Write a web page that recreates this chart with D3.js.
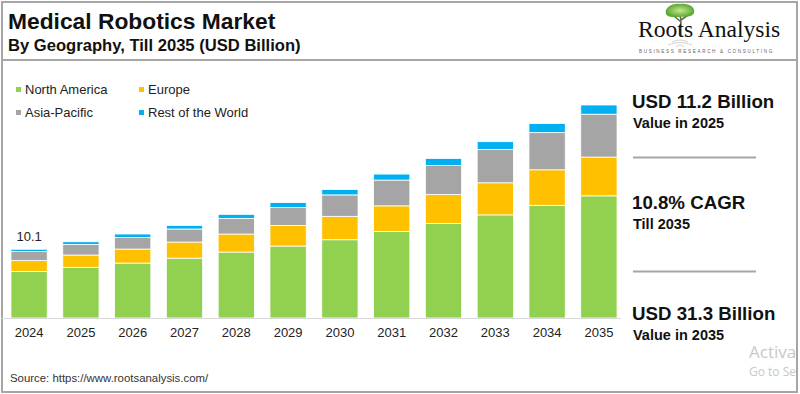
<!DOCTYPE html>
<html>
<head>
<meta charset="utf-8">
<script src="https://cdn.jsdelivr.net/npm/d3@7"></script>
<style>
  html, body { margin: 0; padding: 0; background: #fff; }
  svg { display: block; font-family: "Liberation Sans", Arial, sans-serif; }
</style>
</head>
<body>
<svg id="chart" width="800" height="394"></svg>
<script>
// data, USD billion
const years = ["2024", "2025", "2026", "2027", "2028", "2029", "2030", "2031", "2032", "2033", "2034", "2035"];
const northAmerica = [6.85, 7.45, 8.07, 8.80, 9.69, 10.57, 11.50, 12.70, 13.90, 15.15, 16.56, 17.95];
const europe       = [1.58, 1.80, 2.06, 2.36, 2.65, 3.04, 3.44, 3.78, 4.23, 4.72, 5.22, 5.70];
const asiaPacific  = [1.33, 1.55, 1.71, 1.92, 2.30, 2.61, 3.15, 3.79, 4.28, 4.91, 5.46, 6.30];
const restOfWorld  = [0.34, 0.40, 0.50, 0.53, 0.59, 0.74, 0.79, 0.88, 1.03, 1.13, 1.33, 1.35];
const regions = ["North America", "Europe", "Asia-Pacific", "Rest of the World"];
const colors = ["#92D050", "#FFC000", "#A5A5A5", "#00B0F0"];
const firstLabel = "10.1";

const rows = years.map((y, i) => ({
    year: y,
    "North America": northAmerica[i],
    "Europe": europe[i],
    "Asia-Pacific": asiaPacific[i],
    "Rest of the World": restOfWorld[i]
}));

const svg = d3.select("#chart");

// frame
svg.append("rect")
    .attr("x", 2).attr("y", 2).attr("width", 795).attr("height", 390)
    .attr("fill", "none").attr("stroke", "#a6a6a6").attr("stroke-width", 2);
svg.append("line")
    .attr("x1", 2).attr("x2", 797).attr("y1", 60).attr("y2", 60)
    .attr("stroke", "#a6a6a6").attr("stroke-width", 2);

// titles
svg.append("text")
    .attr("x", 8).attr("y", 29)
    .attr("font-size", 22.8).attr("font-weight", "bold").attr("fill", "#111")
    .text("Medical Robotics Market");
svg.append("text")
    .attr("x", 8).attr("y", 51)
    .attr("font-size", 16.6).attr("font-weight", "bold").attr("fill", "#111")
    .text("By Geography, Till 2035 (USD Billion)");

// logo
const logo = svg.append("g");
const grad = svg.append("defs").append("radialGradient").attr("id", "leaf");
grad.append("stop").attr("offset", "0%").attr("stop-color", "#c8e88a");
grad.append("stop").attr("offset", "100%").attr("stop-color", "#5aa832");
logo.append("path")
    .attr("d", "M681,36 C680,28 682,22 680,15 M681,22 L674,16 M681,20 L688,15")
    .attr("fill", "none").attr("stroke", "#6b6b5a").attr("stroke-width", 1.6);
logo.append("path")
    .attr("d", "M666,14 C664,8 672,3 680,4 C688,3 696,7 694,13 C692,18 684,16 680,17 C675,17 668,18 666,14 Z")
    .attr("fill", "url(#leaf)");
logo.append("path")
    .attr("d", "M672,42 Q680,38 688,42 M668,45 Q680,40 692,45 M676,47 Q680,43 684,47")
    .attr("fill", "none").attr("stroke", "#c9c9c9").attr("stroke-width", 0.8);
logo.append("text")
    .attr("x", 638).attr("y", 37)
    .attr("font-family", "'Liberation Serif', 'Times New Roman', serif")
    .attr("font-size", 23.6).attr("fill", "#111")
    .text("Roots Analysis");
logo.append("text")
    .attr("x", 639).attr("y", 53)
    .attr("font-size", 4.6).attr("letter-spacing", 1.65).attr("fill", "#666")
    .text("BUSINESS RESEARCH & CONSULTING");

// legend
const legend = svg.append("g")
    .selectAll("g")
    .data(regions)
    .join("g")
    .attr("transform", (d, i) => `translate(${i % 2 === 0 ? 15 : 138},${i < 2 ? 94 : 117})`);
legend.append("rect")
    .attr("x", 1).attr("y", -7).attr("width", 5).attr("height", 5)
    .attr("fill", (d, i) => colors[i]);
legend.append("text")
    .attr("x", 10).attr("y", 0)
    .attr("font-size", 13).attr("fill", "#222")
    .text(d => d);

// scales
const x = d3.scaleBand()
    .domain(years)
    .range([3.2, 624.8])
    .paddingInner(0.3)
    .paddingOuter(0.15);

const y = d3.scaleLinear()
    .domain([0, 31.3])
    .range([318, 105]);

const stacked = d3.stack().keys(regions)(rows);

svg.append("g")
    .selectAll("g")
    .data(stacked)
    .join("g")
    .attr("fill", (d, i) => colors[i])
    .selectAll("rect")
    .data(d => d)
    .join("rect")
    .attr("x", d => x(d.data.year))
    .attr("width", x.bandwidth())
    .attr("y", d => y(d[1]))
    .attr("height", d => y(d[0]) - y(d[1]))
    .attr("stroke", "#fff")
    .attr("stroke-width", 0.8);

// x axis
const xAxis = svg.append("g")
    .attr("transform", "translate(0,318)")
    .call(d3.axisBottom(x).tickSize(0).tickPadding(10));
xAxis.select(".domain")
    .attr("d", "M1,0.5H621")
    .attr("stroke", "#d9d9d9").attr("stroke-width", 1.2);
xAxis.selectAll("text")
    .attr("font-size", 13)
    .attr("font-family", "'Liberation Sans', Arial, sans-serif")
    .attr("fill", "#222");

// label on first bar
svg.append("text")
    .attr("x", x(years[0]) + x.bandwidth() / 2)
    .attr("y", y(10.1) - 8)
    .attr("text-anchor", "middle")
    .attr("font-size", 13).attr("fill", "#222")
    .text(firstLabel);

// right panel
const stats = [
    { big: "USD 11.2 Billion", small: "Value in 2025", y: 108 },
    { big: "10.8% CAGR", small: "Till 2035", y: 209 },
    { big: "USD 31.3 Billion", small: "Value in 2035", y: 320 }
];
const panel = svg.append("g").selectAll("g").data(stats).join("g");
panel.append("text")
    .attr("x", 632).attr("y", d => d.y)
    .attr("font-size", 18.7).attr("font-weight", "bold").attr("fill", "#111")
    .text(d => d.big);
panel.append("text")
    .attr("x", 633).attr("y", d => d.y + 19.5)
    .attr("font-size", 14.5).attr("font-weight", "bold").attr("fill", "#111")
    .text(d => d.small);
svg.selectAll(".sep")
    .data([157.5, 271.5])
    .join("line")
    .attr("class", "sep")
    .attr("x1", 633).attr("x2", 756)
    .attr("y1", d => d).attr("y2", d => d)
    .attr("stroke", "#a6a6a6").attr("stroke-width", 2);

// source
svg.append("text")
    .attr("x", 10).attr("y", 382)
    .attr("font-size", 11.4).attr("fill", "#333")
    .text("Source: https://www.rootsanalysis.com/");

// windows watermark (only the visible part)
svg.append("text")
    .attr("x", 749).attr("y", 358)
    .attr("font-family", "'Open Sans', 'Noto Sans', sans-serif")
    .attr("font-size", 17).attr("fill", "#c8c8c8")
    .text("Activa");
svg.append("text")
    .attr("x", 749).attr("y", 376)
    .attr("font-family", "'Open Sans', 'Noto Sans', sans-serif")
    .attr("font-size", 12).attr("fill", "#c8c8c8")
    .text("Go to Se");
</script>
</body>
</html>
